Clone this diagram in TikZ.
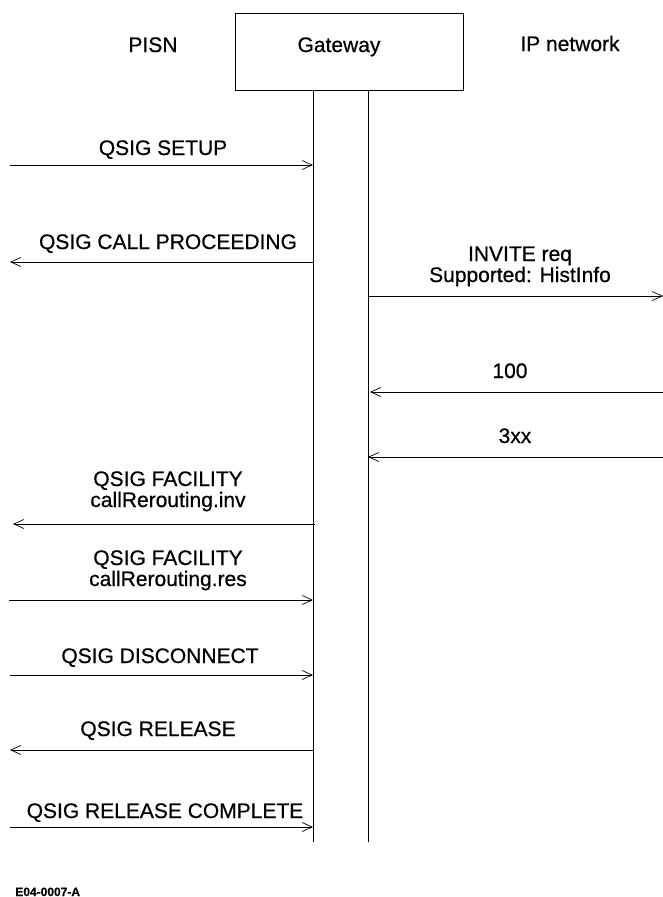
\documentclass[tikz,border=0pt]{standalone}
\usepackage{fontspec}
\setmainfont[FakeBold=0.6]{Liberation Sans}
\usetikzlibrary{arrows.meta}
\tikzset{
  msg/.style={draw=none,font=\fontsize{21}{21}\selectfont,align=center,inner sep=0pt,anchor=base},
  sig/.style={-{Straight Barb[length=10pt,width=9pt]},line width=0.7pt},
}
\begin{document}
\begin{tikzpicture}[x=1pt,y=-1pt,line width=0.7pt]
  \useasboundingbox (0,0) rectangle (663,897);
  % Entities
  \node[draw,minimum width=228pt,minimum height=77pt,inner sep=0pt] (gw) at (349,51.5) {};
  \node[msg] (gwlbl) at (339,52) {Gateway};
  \node[msg] (pisn) at (153,52) {PISN};
  \node[msg] (ipn) at (570,51) {IP network};
  % Lifelines
  \coordinate (lt) at (313,90);  \coordinate (lb) at (313,842);
  \coordinate (rt) at (368,90);  \coordinate (rb) at (368,842);
  \draw (lt) -- (lb);
  \draw (rt) -- (rb);
  % PISN side ends
  \coordinate (p1) at (10,165);  \coordinate (g1) at (313,165);
  \coordinate (p2) at (10,262);  \coordinate (g2) at (313,262);
  \coordinate (p6) at (13,524);  \coordinate (g6) at (315,524);
  \coordinate (p7) at (9,600);   \coordinate (g7) at (313,600);
  \coordinate (p8) at (10,675);  \coordinate (g8) at (313,675);
  \coordinate (p9) at (10,750);  \coordinate (g9) at (313,750);
  \coordinate (p10) at (10,827); \coordinate (g10) at (313,827);
  % IP side ends
  \coordinate (g3) at (368,296); \coordinate (i3) at (663,296);
  \coordinate (g4) at (370,392); \coordinate (i4) at (663,392);
  \coordinate (g5) at (368,457); \coordinate (i5) at (663,457);
  % Messages
  \draw[sig] (p1) -- (g1);
  \node[msg] (m1) at (163,155) {QSIG SETUP};
  \draw[sig] (g2) -- (p2);
  \node[msg] (m2) at (168,249) {QSIG CALL PROCEEDING};
  \draw[sig] (g3) -- (i3);
  \node[msg] (m3) at (520,282) {INVITE req\\Supported: HistInfo};
  \draw[sig] (i4) -- (g4);
  \node[msg] (m4) at (510,378) {100};
  \draw[sig] (i5) -- (g5);
  \node[msg] (m5) at (515,443) {3xx};
  \draw[sig] (g6) -- (p6);
  \node[msg] (m6) at (168,507) {QSIG FACILITY\\callRerouting.inv};
  \draw[sig] (p7) -- (g7);
  \node[msg] (m7) at (168,586) {QSIG FACILITY\\callRerouting.res};
  \draw[sig] (p8) -- (g8);
  \node[msg] (m8) at (160,663) {QSIG DISCONNECT};
  \draw[sig] (g9) -- (p9);
  \node[msg] (m9) at (158,736) {QSIG RELEASE};
  \draw[sig] (p10) -- (g10);
  \node[msg] (m10) at (165,818) {QSIG RELEASE COMPLETE};
  % Figure tag
  \node[draw=none,font=\fontsize{12}{12}\bfseries,anchor=base west,inner sep=0pt] (tag) at (15,896) {E04-0007-A};
\end{tikzpicture}
\end{document}
